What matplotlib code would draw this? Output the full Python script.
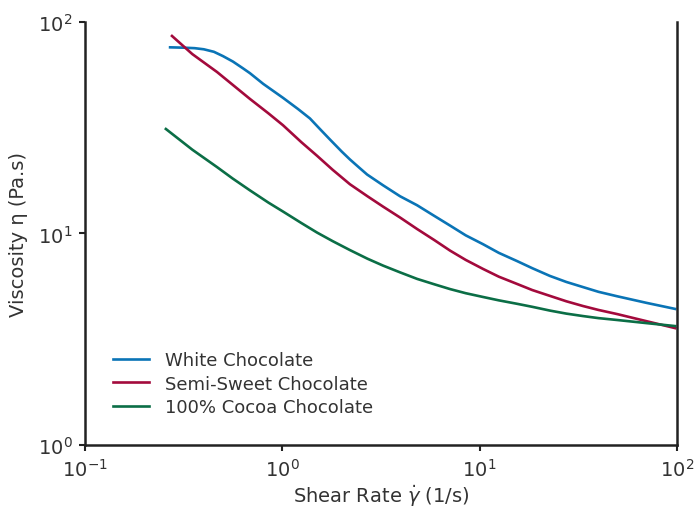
import matplotlib
matplotlib.use("Agg")
import matplotlib.pyplot as plt
from matplotlib.ticker import FixedLocator, NullLocator

# values (log-log)
white_x = [0.270, 0.318, 0.36, 0.40, 0.45, 0.50, 0.562, 0.63, 0.685, 0.80, 1.008, 1.2,
           1.38, 1.55, 1.745, 2.0, 2.20, 2.45, 2.69, 3.24, 3.95, 4.82, 5.9, 7.08, 8.5,
           10.4, 12.5, 15.5, 18.5, 22.7, 27.5, 33.4, 40, 49.7, 70, 97.8]
white_y = [75.9, 75.6, 75.2, 74.3, 72.3, 69.0, 65.0, 60.5, 57.3, 51.0, 43.8, 38.8,
           35.0, 31.2, 27.8, 24.4, 22.4, 20.5, 19.0, 16.9, 15.0, 13.6, 12.1, 10.9, 9.8,
           8.9, 8.1, 7.4, 6.85, 6.30, 5.9, 5.58, 5.3, 5.05, 4.7, 4.40]

semi_x = [0.276, 0.35, 0.467, 0.56, 0.685, 0.85, 1.008, 1.25, 1.50, 1.8, 2.20, 2.7,
          3.24, 3.95, 4.82, 5.9, 7.08, 8.5, 10.4, 12.5, 15.5, 18.5, 22.7, 27.5, 33.4,
          40, 49.7, 70, 97.8]
semi_y = [85.9, 70.5, 58.0, 50.5, 43.3, 37.0, 32.5, 27.0, 23.3, 20.0, 17.1, 15.0,
          13.4, 11.9, 10.5, 9.3, 8.3, 7.5, 6.8, 6.25, 5.77, 5.4, 5.07, 4.78, 4.54,
          4.35, 4.16, 3.85, 3.57]

cocoa_x = [0.257, 0.35, 0.467, 0.56, 0.685, 0.85, 1.008, 1.25, 1.50, 1.8, 2.20, 2.7,
           3.24, 3.95, 4.82, 5.9, 7.08, 8.5, 10.4, 12.5, 15.5, 18.5, 22.7, 27.5, 33.4,
           40, 49.7, 70, 97.8]
cocoa_y = [31.2, 24.9, 20.6, 18.2, 16.0, 14.0, 12.7, 11.2, 10.1, 9.2, 8.35, 7.6,
           7.05, 6.55, 6.1, 5.75, 5.46, 5.22, 5.01, 4.83, 4.65, 4.5, 4.32, 4.18, 4.07,
           3.98, 3.90, 3.77, 3.65]

series = ["White Chocolate", "Semi-Sweet Chocolate", "100% Cocoa Chocolate"]
colors = ["#0a74b6", "#a30a3c", "#0b6e46"]

plt.rcParams['font.family'] = ['DejaVu Sans']
plt.rcParams['mathtext.fontset'] = 'dejavusans'
txt = "#333333"

fig = plt.figure(figsize=(6.96, 5.10), dpi=100)
ax = fig.add_axes([0.1221, 0.1255, 0.8506, 0.8294])

for xs, ys, lab, c in zip([white_x, semi_x, cocoa_x], [white_y, semi_y, cocoa_y], series, colors):
    ax.plot(xs, ys, color=c, lw=1.9, label=lab)

ax.set_xscale('log')
ax.set_yscale('log')
ax.set_xlim(0.1, 100)
ax.set_ylim(1, 100)

ax.xaxis.set_major_locator(FixedLocator([0.1, 1, 10, 100]))
ax.yaxis.set_major_locator(FixedLocator([1, 10, 100]))
ax.xaxis.set_minor_locator(NullLocator())
ax.yaxis.set_minor_locator(NullLocator())
ax.set_xticklabels([r'$\mathregular{10^{-1}}$', r'$\mathregular{10^{0}}$',
                    r'$\mathregular{10^{1}}$', r'$\mathregular{10^{2}}$'])
ax.set_yticklabels([r'$\mathregular{10^{0}}$', r'$\mathregular{10^{1}}$',
                    r'$\mathregular{10^{2}}$'])
ax.tick_params(axis='both', direction='out', length=4, width=1.5, color='#222222',
               labelsize=14, labelcolor=txt, pad=5)

ax.spines['top'].set_visible(False)
for s in ['left', 'bottom', 'right']:
    ax.spines[s].set_linewidth(1.8)
    ax.spines[s].set_color('#222222')

ax.set_xlabel(r'Shear Rate $\dot{\gamma}$ (1/s)', fontsize=14, color=txt, labelpad=2)
ax.set_ylabel('Viscosity η (Pa.s)', fontsize=14, color=txt, labelpad=7)

ax.legend(loc='lower left', bbox_to_anchor=(0.02, 0.03), frameon=False, fontsize=13,
          handlelength=2.0, handletextpad=0.9, labelspacing=0.3, labelcolor=txt)

fig.savefig("out.png", dpi=100)
